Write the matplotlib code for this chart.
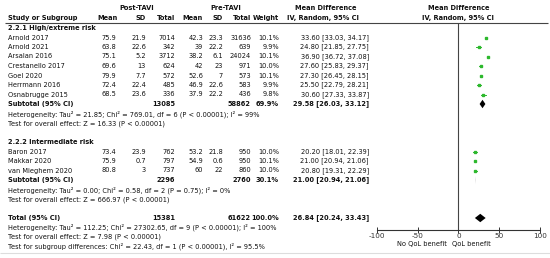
import numpy as np
import matplotlib
matplotlib.use("Agg")
import matplotlib.pyplot as plt

# ---- data ----
studies1 = ["Arnold 2017", "Arnold 2021", "Arsalan 2016", "Crestanello 2017",
            "Goel 2020", "Herrmann 2016", "Osnabrugge 2015"]
post_mean1 = [75.9, 63.8, 75.1, 69.6, 79.9, 72.4, 68.5]
post_sd1 = [21.9, 22.6, 5.2, 13, 7.7, 22.4, 23.6]
post_n1 = [7014, 342, 3712, 624, 572, 485, 336]
pre_mean1 = [42.3, 39, 38.2, 42, 52.6, 46.9, 37.9]
pre_sd1 = [23.3, 22.2, 6.1, 23, 7, 22.6, 22.2]
pre_n1 = [31636, 639, 24024, 971, 573, 583, 436]
weight1 = [10.1, 9.9, 10.1, 10.0, 10.1, 9.9, 9.8]
md1 = [33.60, 24.80, 36.90, 27.60, 27.30, 25.50, 30.60]
lo1 = [33.03, 21.85, 36.72, 25.83, 26.45, 22.79, 27.33]
hi1 = [34.17, 27.75, 37.08, 29.37, 28.15, 28.21, 33.87]

studies2 = ["Baron 2017", "Makkar 2020", "van Mieghem 2020"]
post_mean2 = [73.4, 75.9, 80.8]
post_sd2 = [23.9, 0.7, 3]
post_n2 = [762, 797, 737]
pre_mean2 = [53.2, 54.9, 60]
pre_sd2 = [21.8, 0.6, 22]
pre_n2 = [950, 950, 860]
weight2 = [10.0, 10.1, 10.0]
md2 = [20.20, 21.00, 20.80]
lo2 = [18.01, 20.94, 19.31]
hi2 = [22.39, 21.06, 22.29]

# subtotal 1, subtotal 2, overall
pool_labels = ["Subtotal (95% CI)", "Subtotal (95% CI)", "Total (95% CI)"]
pool_post_n = [13085, 2296, 15381]
pool_pre_n = [58862, 2760, 61622]
pool_weight = [69.9, 30.1, 100.0]
pool_md = [29.58, 21.00, 26.84]
pool_lo = [26.03, 20.94, 20.24]
pool_hi = [33.12, 21.06, 33.43]

het_text = ["Heterogeneity: Tau\u00b2 = 21.85; Chi\u00b2 = 769.01, df = 6 (P < 0.00001); I\u00b2 = 99%",
            "Heterogeneity: Tau\u00b2 = 0.00; Chi\u00b2 = 0.58, df = 2 (P = 0.75); I\u00b2 = 0%",
            "Heterogeneity: Tau\u00b2 = 112.25; Chi\u00b2 = 27302.65, df = 9 (P < 0.00001); I\u00b2 = 100%"]
z_text = ["Test for overall effect: Z = 16.33 (P < 0.00001)",
          "Test for overall effect: Z = 666.97 (P < 0.00001)",
          "Test for overall effect: Z = 7.98 (P < 0.00001)"]
sub_text = "Test for subgroup differences: Chi\u00b2 = 22.43, df = 1 (P < 0.00001), I\u00b2 = 95.5%"
groups = ["2.2.1 High/extreme risk", "2.2.2 Intermediate risk"]

xticks = [-100, -50, 0, 50, 100]

# ---- layout (pixel coords) ----
W, H = 550, 258
fs = 4.75
green = '#2db82d'
row0, dy = 28, 9.5
def ry(i):
    return row0 + dy * i

# column right edges
c_pm, c_psd, c_pn = 116, 146, 175
c_qm, c_qsd, c_qn = 203, 223, 251
c_w, c_ci = 279, 369

fig = plt.figure(figsize=(W / 100, H / 100), dpi=100)
tab = fig.add_axes([0, 0, 1, 1])
tab.set_xlim(0, W)
tab.set_ylim(H, 0)
tab.axis('off')

def txt(x, y, s, ha='right', bold=False, size=fs):
    tab.text(x, y, s, ha=ha, va='center', fontsize=size,
             fontweight='bold' if bold else 'normal', color='#111111')

# header
txt(137, 8, "Post-TAVI", ha='center', bold=True)
txt(226, 8, "Pre-TAVI", ha='center', bold=True)
txt(326, 8, "Mean Difference", ha='center', bold=True)
txt(458.3, 8, "Mean Difference", ha='center', bold=True)
txt(8, 18, "Study or Subgroup", ha='left', bold=True)
for x, s in [(c_pm + 2, "Mean"), (c_psd, "SD"), (c_pn, "Total"),
             (c_qm, "Mean"), (c_qsd, "SD"), (c_qn, "Total"), (c_w, "Weight")]:
    txt(x, 18, s, bold=True)
txt(323, 18, "IV, Random, 95% CI", ha='center', bold=True)
txt(458.3, 18, "IV, Random, 95% CI", ha='center', bold=True)
tab.hlines(22.5, 5, 548, color='#444444', lw=0.8)
tab.hlines(253, 0, W, color='#dddddd', lw=0.8)

def study_row(y, name, pm, psd, pn, qm, qsd, qn, w, m, lo, hi):
    txt(8, y, name, ha='left')
    txt(c_pm, y, f"{pm:g}")
    txt(c_psd, y, f"{psd:g}")
    txt(c_pn, y, f"{pn}")
    txt(c_qm, y, f"{qm:g}")
    txt(c_qsd, y, f"{qsd:g}")
    txt(c_qn, y, f"{qn}")
    txt(c_w, y, f"{w:.1f}%")
    txt(c_ci, y, f"{m:.2f} [{lo:.2f}, {hi:.2f}]")

def pool_row(y, k):
    txt(8, y, pool_labels[k], ha='left', bold=True)
    txt(c_pn, y, f"{pool_post_n[k]}", bold=True)
    txt(c_qn, y, f"{pool_pre_n[k]}", bold=True)
    txt(c_w, y, f"{pool_weight[k]:.1f}%", bold=True)
    txt(c_ci, y, f"{pool_md[k]:.2f} [{pool_lo[k]:.2f}, {pool_hi[k]:.2f}]", bold=True)

# forest axes
fa = fig.add_axes([376.7 / W, 1 - 230 / H, (540 - 376.7) / W, (230 - 22.5) / H])
fa.set_xlim(-100, 100)
fa.set_ylim(230, 22.5)
fa.patch.set_alpha(0)
for s in ['top', 'left', 'right']:
    fa.spines[s].set_visible(False)
fa.spines['bottom'].set_color('#333333')
fa.spines['bottom'].set_linewidth(0.8)
fa.set_yticks([])
fa.set_xticks(xticks)
fa.set_xticklabels([str(t) for t in xticks])
fa.tick_params(axis='x', direction='inout', length=4, width=0.7, labelsize=fs + 0.5,
               pad=0.5, colors='#333333')
fa.axvline(0, color='#444444', lw=0.8)

def forest_point(y, m, lo, hi):
    fa.plot([lo, hi], [y, y], color=green, lw=0.7)
    fa.plot(m, y, 's', color=green, ms=1.8, mec=green)

def diamond(y, m, lo, hi, h=4.2):
    fa.fill([lo, m, hi, m], [y, y - h, y, y + h], color='black', lw=0)

i = 0
txt(8, ry(i), groups[0], ha='left', bold=True)
for k in range(len(studies1)):
    i += 1
    study_row(ry(i), studies1[k], post_mean1[k], post_sd1[k], post_n1[k], pre_mean1[k],
              pre_sd1[k], pre_n1[k], weight1[k], md1[k], lo1[k], hi1[k])
    forest_point(ry(i), md1[k], lo1[k], hi1[k])
i += 1
pool_row(ry(i), 0)
diamond(ry(i), pool_md[0], pool_lo[0], pool_hi[0])
txt(8, ry(i + 1) + 0.7, het_text[0], ha='left')
txt(8, ry(i + 2) + 0.7, z_text[0], ha='left')
i += 4
txt(8, ry(i), groups[1], ha='left', bold=True)
for k in range(len(studies2)):
    i += 1
    study_row(ry(i), studies2[k], post_mean2[k], post_sd2[k], post_n2[k], pre_mean2[k],
              pre_sd2[k], pre_n2[k], weight2[k], md2[k], lo2[k], hi2[k])
    forest_point(ry(i), md2[k], lo2[k], hi2[k])
i += 1
pool_row(ry(i), 1)
diamond(ry(i), pool_md[1], pool_lo[1], pool_hi[1])
txt(8, ry(i + 1) + 0.7, het_text[1], ha='left')
txt(8, ry(i + 2) + 0.7, z_text[1], ha='left')
i += 4
pool_row(ry(i), 2)
diamond(ry(i), pool_md[2], pool_lo[2], pool_hi[2])
txt(8, ry(i + 1), het_text[2], ha='left')
txt(8, ry(i + 2), z_text[2], ha='left')
txt(8, ry(i + 3), sub_text, ha='left')

txt(447, 244, "No QoL benefit", ha='right')
txt(452, 244, "QoL benefit", ha='left')

fig.savefig("out.png", dpi=100)
